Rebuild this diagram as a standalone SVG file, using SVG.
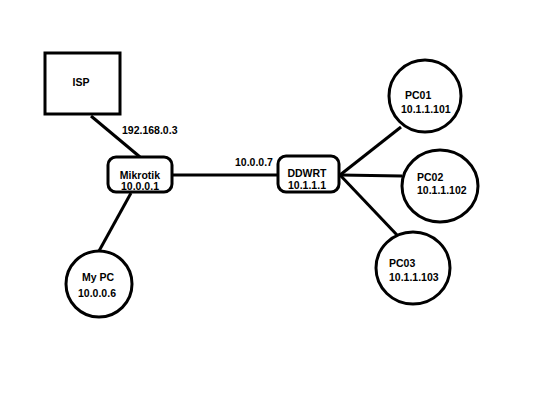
<svg xmlns="http://www.w3.org/2000/svg" width="540" height="405" viewBox="0 0 540 405">
<style>
.s{fill:#fff;stroke:#000;stroke-width:3}
.c line{stroke:#000;stroke-width:3}
text{font-family:"Liberation Sans",Arial,sans-serif;font-weight:bold;font-size:10.5px;fill:#000}
</style>
<rect width="540" height="405" fill="#fff"/>
<g class="c" id="connectors">
<line x1="91" y1="116" x2="140" y2="157"/>
<line x1="173" y1="175" x2="278" y2="175"/>
<line x1="131" y1="193" x2="99" y2="251"/>
<line x1="340" y1="175" x2="401" y2="127"/>
<line x1="340" y1="175" x2="402" y2="176"/>
<line x1="340" y1="175" x2="397" y2="235"/>
<text x="122" y="134">192.168.0.3</text>
<text x="235" y="166">10.0.0.7</text>
</g>
<g id="isp">
<rect class="s" x="45" y="53" width="75" height="61"/>
<text x="81" y="86" text-anchor="middle">ISP</text>
</g>
<g id="mikrotik">
<rect class="s" x="108" y="157" width="64" height="35" rx="8"/>
<text x="140" y="179" text-anchor="middle">Mikrotik</text>
<text x="140" y="190" text-anchor="middle">10.0.0.1</text>
</g>
<g id="ddwrt">
<rect class="s" x="278" y="156" width="61" height="36" rx="8"/>
<text x="307" y="177" text-anchor="middle">DDWRT</text>
<text x="307" y="189" text-anchor="middle">10.1.1.1</text>
</g>
<g id="mypc">
<circle class="s" cx="99" cy="284" r="33"/>
<text x="98" y="281" text-anchor="middle">My PC</text>
<text x="97" y="297" text-anchor="middle">10.0.0.6</text>
</g>
<g id="pc01">
<ellipse class="s" cx="425" cy="96" rx="36" ry="36"/>
<text x="405" y="99">PC01</text>
<text x="401" y="113">10.1.1.101</text>
</g>
<g id="pc02">
<ellipse class="s" cx="440" cy="186" rx="38" ry="36"/>
<text x="417" y="181">PC02</text>
<text x="417" y="194">10.1.1.102</text>
</g>
<g id="pc03">
<ellipse class="s" cx="413" cy="268" rx="37" ry="36"/>
<text x="389" y="267">PC03</text>
<text x="389" y="281">10.1.1.103</text>
</g>
</svg>
